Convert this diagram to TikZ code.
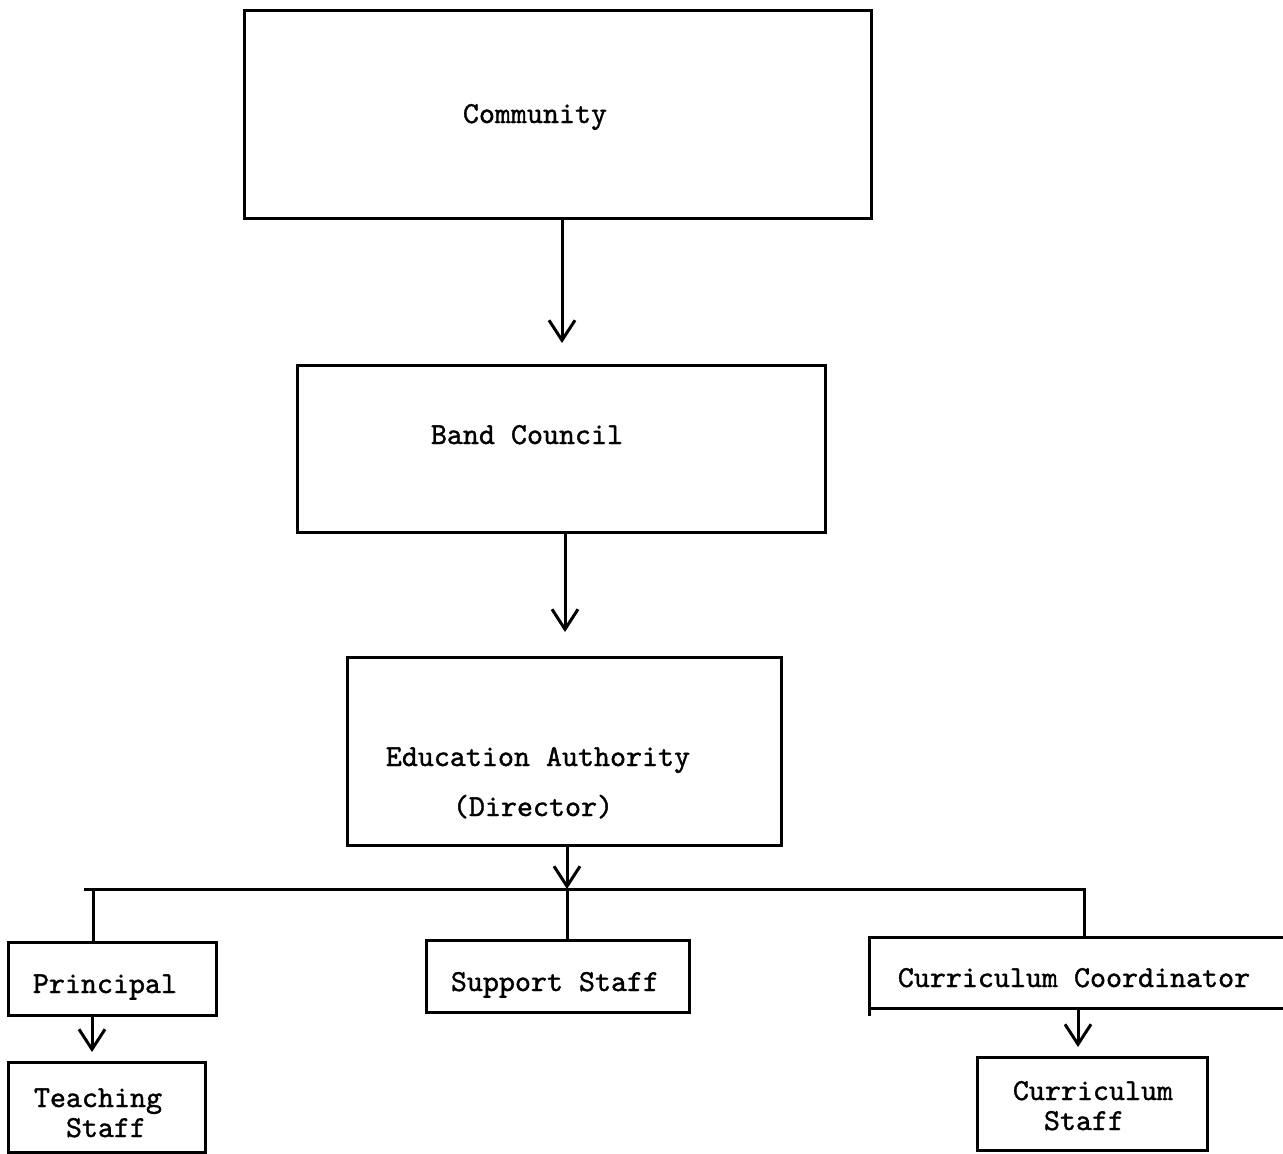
\documentclass[tikz,border=0pt]{standalone}
\usepackage{fontspec}
\newfontfamily\tw[FakeBold=1.2]{lmmono10-regular.otf}
\usetikzlibrary{arrows.meta,calc}
\begin{document}
\begin{tikzpicture}[x=1pt,y=-1pt,
  box/.style={draw, line width=3pt, inner sep=0pt, outer sep=0pt, rectangle},
  lbl/.style={font={\tw\fontsize{30.5pt}{30.5pt}\selectfont}, anchor=base, inner sep=0pt},
  arr/.style={line width=3pt, -{Straight Barb[length=20pt,width=26pt,line width=3pt]}},
  wire/.style={line width=3pt}]
\fill[white] (0,0) rectangle (1283,1154);
\useasboundingbox (0,0) rectangle (1283,1154);

% boxes
\node[box, minimum width=627pt, minimum height=208pt] (comm) at (557.5,114) {};
\node[box, minimum width=528pt, minimum height=167pt] (band) at (561,448.5) {};
\node[box, minimum width=434pt, minimum height=188pt] (edu) at (564,751) {};
\node[box, minimum width=208pt, minimum height=73pt] (princ) at (112,978.5) {};
\node[box, minimum width=197pt, minimum height=90pt] (teach) at (106.5,1107) {};
\node[box, minimum width=263pt, minimum height=72pt] (supp) at (557.5,976) {};
\node[inner sep=0pt, outer sep=0pt, minimum width=421pt, minimum height=71pt] (coord) at (1079.5,972.5) {};
\draw[wire] (coord.north east) -- (coord.north west) -- ([yshift=-8pt]coord.south west);
\draw[wire] (coord.south west) -- (coord.south east);
\node[box, minimum width=230pt, minimum height=93pt] (cstaff) at (1092,1103.5) {};

% labels
\node[lbl] (tcomm) at (535,123) {Community};
\node[lbl] (tband) at (527,444) {Band Council};
\node[lbl] (tedu1) at (538,766) {Education Authority};
\node[lbl] (tedu2) at (533,816) {(Director)};
\node[lbl] (tprinc) at (105,993) {Principal};
\node[lbl] (tsupp) at (555,991) {Support Staff};
\node[lbl] (tcoord) at (1074,987) {Curriculum Coordinator};
\node[lbl] (tteach1) at (98,1107) {Teaching};
\node[lbl] (tteach2) at (106,1137) {Staff};
\node[lbl] (tcs1) at (1093,1100) {Curriculum};
\node[lbl] (tcs2) at (1084,1130) {Staff};

% connector columns
\coordinate (x1) at (562,0);
\coordinate (x2) at (565,0);
\coordinate (x3) at (567,0);
\coordinate (xp) at (93,0);
\coordinate (xpa) at (92,0);
\coordinate (xc) at (1084,0);
\coordinate (xca) at (1078,0);
\coordinate (barL) at (84,889);
\coordinate (barR) at (1084,889);

\draw[arr, shorten >=22pt] (x1 |- comm.south) -- (x1 |- band.north);
\draw[arr, shorten >=25pt] (x2 |- band.south) -- (x2 |- edu.north);
\draw[arr] (x3 |- edu.south) -- (x3 |- barL);
\draw[wire] (barL) -- (barR) -- (xc |- coord.north);
\draw[wire] (xp |- barL) -- (xp |- princ.north);
\draw[wire] (x3 |- barL) -- (x3 |- supp.north);
\draw[arr, shorten >=10pt] (xpa |- princ.south) -- (xpa |- teach.north);
\draw[arr, shorten >=10pt] (xca |- coord.south) -- (xca |- cstaff.north);
\end{tikzpicture}
\end{document}
